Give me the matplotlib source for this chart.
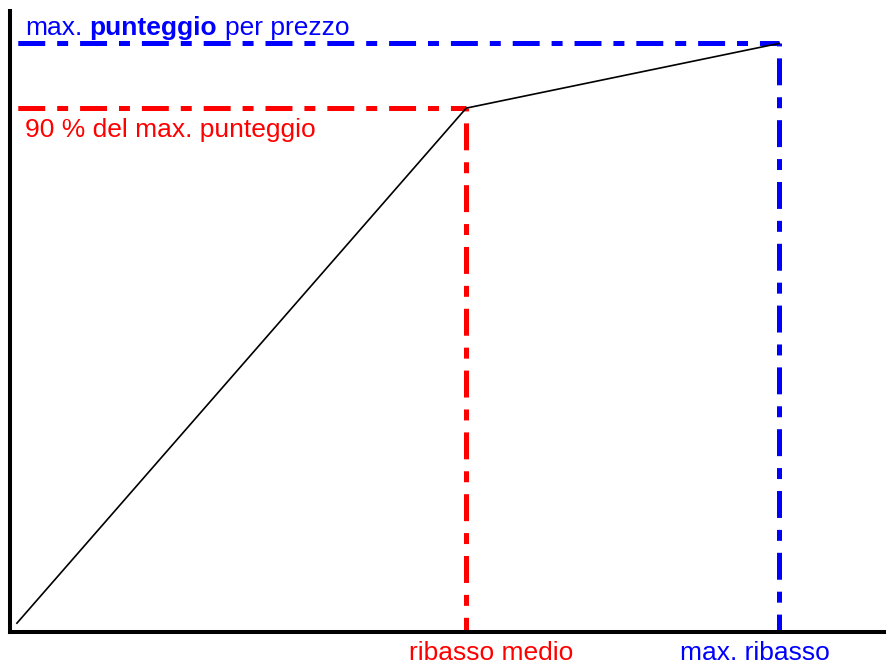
import matplotlib.pyplot as plt

# --- impostazioni ---
plt.rcParams['font.family'] = ['Liberation Sans', 'DejaVu Sans']
plt.rcParams['lines.scale_dashes'] = False

ROSSO = '#ff0000'
BLU = '#0000ff'

# --- dati (ribasso in % del massimo, punteggio in % del massimo) ---
ribasso = [0.9, 59.3, 100]
punteggio = [1.5, 89, 100]
ribasso_medio = ribasso[1]
ribasso_max = ribasso[2]
punteggio_90 = punteggio[1]
punteggio_max = punteggio[2]

# tratto-punto: lungo, spazio, corto, spazio (in punti)
tratto = (19.4, 8.6, 7.9, 8.6)

fig = plt.figure(figsize=(8.87, 6.64), dpi=100)
ax = fig.add_axes([10 / 887, 32 / 664, 877 / 887, 621 / 664])
ax.set_xlim(0, 114)
ax.set_ylim(0, 105.5)

# linee di riferimento orizzontali
ax.plot([0, ribasso_medio], [punteggio_90, punteggio_90], color=ROSSO, lw=3.6,
        ls=(38.9, tratto), solid_capstyle='butt', dash_capstyle='butt', zorder=2)
ax.plot([0, ribasso_max], [punteggio_max, punteggio_max], color=BLU, lw=3.6,
        ls=(38.9, tratto), solid_capstyle='butt', dash_capstyle='butt', zorder=2)

# linee di riferimento verticali
ax.plot([ribasso_medio, ribasso_medio], [punteggio_90, 0], color=ROSSO, lw=3.6,
        ls=(33.8, tratto), dash_capstyle='butt', zorder=2)
ax.plot([ribasso_max, ribasso_max], [punteggio_max, 0], color=BLU, lw=3.6,
        ls=(33.8, tratto), dash_capstyle='butt', zorder=2)

# curva del punteggio
ax.plot(ribasso, punteggio, color='black', lw=1.2, zorder=3)

# assi
for lato in ['top', 'right']:
    ax.spines[lato].set_visible(False)
for lato in ['left', 'bottom']:
    ax.spines[lato].set_linewidth(2.9)
    ax.spines[lato].set_capstyle('projecting')
ax.set_xticks([])
ax.set_yticks([])

# testi
fs = 19
t1 = ax.annotate('max.', xy=(0, punteggio_max), xytext=(10.8, 6),
                 textcoords='offset points', color=BLU, fontsize=fs,
                 va='baseline', ha='left')
t2 = ax.annotate('punteggio', xy=(1, 0), xycoords=t1, xytext=(5.3, 0),
                 textcoords='offset points', color=BLU, fontsize=fs,
                 fontweight='bold', va='bottom', ha='left')
ax.annotate('per prezzo', xy=(1, 0), xycoords=t2, xytext=(5.3, 0),
            textcoords='offset points', color=BLU, fontsize=fs,
            va='bottom', ha='left')

ax.annotate('90 % del max. punteggio', xy=(0, punteggio_90), xytext=(10.8, -20.9),
            textcoords='offset points', color=ROSSO, fontsize=fs,
            va='baseline', ha='left')

ax.annotate('ribasso medio', xy=(ribasso_medio, 0), xytext=(17.6, -20.2),
            textcoords='offset points', color=ROSSO, fontsize=fs,
            va='baseline', ha='center', annotation_clip=False)
ax.annotate('max. ribasso', xy=(ribasso_max, 0), xytext=(-17.6, -20.2),
            textcoords='offset points', color=BLU, fontsize=fs,
            va='baseline', ha='center', annotation_clip=False)

plt.savefig('out.png', dpi=100)
